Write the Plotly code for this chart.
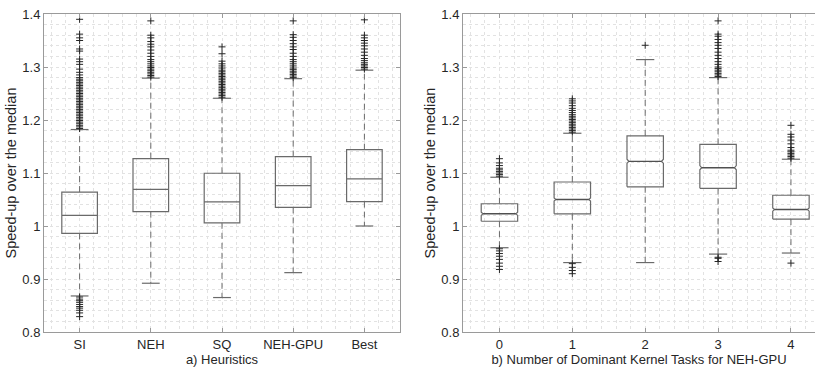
import plotly.graph_objects as go

# ---------------- data ----------------
heuristics = ["SI", "NEH", "SQ", "NEH-GPU", "Best"]
h_q1 = [0.986, 1.027, 1.006, 1.035, 1.046]
h_med = [1.020, 1.069, 1.0455, 1.076, 1.089]
h_q3 = [1.064, 1.127, 1.0995, 1.131, 1.144]
h_lo = [0.868, 0.892, 0.865, 0.912, 1.000]
h_hi = [1.182, 1.279, 1.241, 1.278, 1.294]
h_out = [
    [1.184, 1.187, 1.190, 1.193, 1.196, 1.199, 1.202, 1.205, 1.208, 1.211, 1.214,
     1.217, 1.220, 1.223, 1.226, 1.229, 1.232, 1.235, 1.238, 1.241, 1.244, 1.247,
     1.250, 1.253, 1.256, 1.259, 1.262, 1.265, 1.268, 1.271, 1.274, 1.277, 1.280,
     1.285, 1.290, 1.296, 1.305, 1.310, 1.315, 1.330, 1.334, 1.350, 1.355, 1.362, 1.390,
     0.866, 0.862, 0.859, 0.856, 0.852, 0.848, 0.845, 0.841, 0.836, 0.829],
    [1.281, 1.284, 1.287, 1.290, 1.293, 1.296, 1.299, 1.302, 1.306, 1.310, 1.314,
     1.320, 1.326, 1.332, 1.338, 1.343, 1.348, 1.355, 1.360, 1.387],
    [1.243, 1.246, 1.249, 1.252, 1.255, 1.258, 1.261, 1.264, 1.267, 1.270, 1.273,
     1.276, 1.279, 1.282, 1.285, 1.288, 1.291, 1.294, 1.298, 1.302, 1.306, 1.311,
     1.325, 1.338],
    [1.280, 1.283, 1.286, 1.289, 1.292, 1.295, 1.298, 1.302, 1.306, 1.310, 1.314,
     1.320, 1.326, 1.333, 1.338, 1.344, 1.350, 1.356, 1.361, 1.387],
    [1.296, 1.299, 1.302, 1.305, 1.308, 1.312, 1.316, 1.322, 1.328, 1.334, 1.340,
     1.345, 1.350, 1.355, 1.360, 1.389],
]

kernel_tasks = ["0", "1", "2", "3", "4"]
k_q1 = [1.009, 1.023, 1.074, 1.071, 1.013]
k_med = [1.023, 1.050, 1.122, 1.110, 1.031]
k_q3 = [1.042, 1.083, 1.170, 1.154, 1.058]
k_lo = [0.959, 0.931, 0.931, 0.947, 0.949]
k_hi = [1.092, 1.175, 1.314, 1.280, 1.126]
k_notch = [0.003, 0.003, 0.004, 0.004, 0.003]
k_out = [
    [1.094, 1.097, 1.100, 1.103, 1.106, 1.109, 1.114, 1.119, 1.127,
     0.957, 0.953, 0.948, 0.943, 0.937, 0.930, 0.924, 0.918],
    [1.177, 1.180, 1.183, 1.186, 1.189, 1.192, 1.195, 1.198, 1.201, 1.204, 1.207,
     1.210, 1.214, 1.218, 1.222, 1.227, 1.232, 1.236, 1.240,
     0.929, 0.922, 0.916, 0.910],
    [1.341],
    [1.282, 1.285, 1.288, 1.291, 1.294, 1.297, 1.300, 1.305, 1.310, 1.316, 1.322,
     1.328, 1.335, 1.341, 1.346, 1.352, 1.358, 1.362, 1.387,
     0.941, 0.939, 0.933],
    [1.128, 1.131, 1.134, 1.137, 1.140, 1.143, 1.148, 1.155, 1.162, 1.168, 1.173,
     1.190, 0.930],
]

# ---------------- style ----------------
FONT = "Liberation Sans, Arial, sans-serif"
TXT = "#262626"
BOXC = "#6a6a6a"
MEDC = "#505050"
OUTC = "#262626"
AXC = "#9a9a9a"
GRIDC = "#e2e2e2"
BOXW = 0.5
CAPW = 0.25
NOTCH_DEPTH = 0.025

fig = go.Figure()


def add_panel(xa, ya, q1, med, q3, lo, hi, outs, notch=None):
    pos = list(range(len(q1)))
    hw = BOXW / 2
    if notch is None:
        fig.add_trace(go.Box(
            x=pos, q1=q1, median=med, q3=q3, lowerfence=q1, upperfence=q3,
            width=BOXW, fillcolor="rgba(0,0,0,0)",
            line=dict(color=BOXC, width=1.2),
            xaxis=xa, yaxis=ya, showlegend=False, hoverinfo="skip",
        ))
    else:
        bx, by, mx, my = [], [], [], []
        for i in pos:
            d = NOTCH_DEPTH
            bx += [i - hw, i + hw, i + hw, i + hw - d, i + hw, i + hw,
                   i - hw, i - hw, i - hw + d, i - hw, i - hw, None]
            by += [q1[i], q1[i], med[i] - notch[i], med[i], med[i] + notch[i], q3[i],
                   q3[i], med[i] + notch[i], med[i], med[i] - notch[i], q1[i], None]
            mx += [i - hw + d, i + hw - d, None]
            my += [med[i], med[i], None]
        fig.add_trace(go.Scatter(x=bx, y=by, mode="lines",
                                 line=dict(color=BOXC, width=1.2),
                                 xaxis=xa, yaxis=ya, showlegend=False, hoverinfo="skip"))
        fig.add_trace(go.Scatter(x=mx, y=my, mode="lines",
                                 line=dict(color=MEDC, width=1.4),
                                 xaxis=xa, yaxis=ya, showlegend=False, hoverinfo="skip"))
    wx, wy, cx, cy = [], [], [], []
    for i in pos:
        wx += [i, i, None, i, i, None]
        wy += [q3[i], hi[i], None, q1[i], lo[i], None]
        cx += [i - CAPW / 2, i + CAPW / 2, None, i - CAPW / 2, i + CAPW / 2, None]
        cy += [hi[i], hi[i], None, lo[i], lo[i], None]
    fig.add_trace(go.Scatter(x=wx, y=wy, mode="lines",
                             line=dict(color=BOXC, width=1, dash="6px,4px"),
                             xaxis=xa, yaxis=ya, showlegend=False, hoverinfo="skip"))
    fig.add_trace(go.Scatter(x=cx, y=cy, mode="lines",
                             line=dict(color=BOXC, width=1.2),
                             xaxis=xa, yaxis=ya, showlegend=False, hoverinfo="skip"))
    ox, oy = [], []
    for i in pos:
        ox += [i] * len(outs[i])
        oy += outs[i]
    fig.add_trace(go.Scatter(x=ox, y=oy, mode="markers",
                             marker=dict(symbol="cross-thin", size=5,
                                         line=dict(color=OUTC, width=1)),
                             xaxis=xa, yaxis=ya, showlegend=False, hoverinfo="skip"))


add_panel("x", "y", h_q1, h_med, h_q3, h_lo, h_hi, h_out)
add_panel("x2", "y2", k_q1, k_med, k_q3, k_lo, k_hi, k_out, notch=k_notch)

W, H = 815, 372
common_x = dict(
    showline=True, linecolor=AXC, linewidth=1, ticks="inside", ticklen=4,
    tickcolor=AXC, showgrid=True, gridcolor=GRIDC, griddash="dot", gridwidth=1,
    zeroline=False, tickfont=dict(family=FONT, size=13, color=TXT),
    minor=dict(dtick=0.2, showgrid=True, gridcolor=GRIDC, griddash="dot",
               gridwidth=1, ticks=""),
)
common_y = dict(
    showline=True, linecolor=AXC, linewidth=1, ticks="inside", ticklen=4,
    tickcolor=AXC, showgrid=True, gridcolor=GRIDC, griddash="dot", gridwidth=1,
    zeroline=False, range=[0.8, 1.4], dtick=0.1, tick0=0.8,
    tickfont=dict(family=FONT, size=13, color=TXT),
    minor=dict(dtick=0.02, showgrid=True, gridcolor=GRIDC, griddash="dot",
               gridwidth=1, ticks=""),
    title=dict(text="Speed-up over the median",
               font=dict(family=FONT, size=14.5, color=TXT), standoff=2),
)
xtitle_font = dict(family=FONT, size=13, color=TXT)

fig.update_layout(
    width=W, height=H, paper_bgcolor="white", plot_bgcolor="white",
    margin=dict(l=0, r=0, t=14, b=40),
    xaxis=dict(common_x, domain=[44 / W, 400 / W], range=[-0.5, 4.5],
               tickvals=list(range(5)), ticktext=heuristics, mirror="ticks",
               title=dict(text="a) Heuristics", font=xtitle_font, standoff=4)),
    yaxis=dict(common_y, mirror="ticks"),
    xaxis2=dict(common_x, domain=[463 / W, 1.0], range=[-0.5, 4.33],
                tickvals=list(range(5)), ticktext=kernel_tasks, mirror="ticks",
                anchor="y2",
                title=dict(text="b) Number of Dominant Kernel Tasks for NEH-GPU",
                           font=xtitle_font, standoff=4)),
    yaxis2=dict(common_y, anchor="x2", mirror=False),
)

fig.write_html("out.html", config={"displayModeBar": False},
               post_script="document.body.style.margin='0';document.body.style.overflow='hidden';")
